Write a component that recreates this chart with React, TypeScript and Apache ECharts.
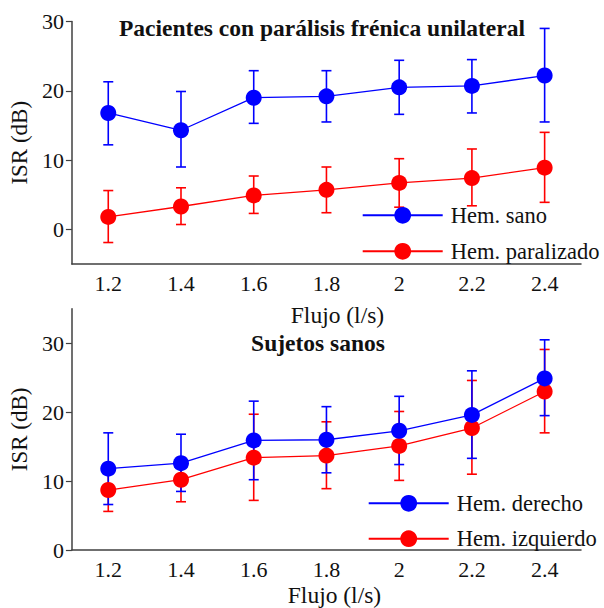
import React, { useEffect, useRef } from "react";
import * as echarts from "echarts";

const flows = ["1.2", "1.4", "1.6", "1.8", "2", "2.2", "2.4"];

// Top panel: Pacientes con parálisis frénica unilateral
const sanoMean = [16.8, 14.3, 19.0, 19.2, 20.5, 20.7, 22.2];
const sanoLow = [12.2, 9.0, 15.3, 15.5, 16.6, 16.8, 15.5];
const sanoHigh = [21.3, 19.9, 22.9, 22.9, 24.4, 24.5, 29.0];
const paralMean = [1.8, 3.3, 4.9, 5.7, 6.7, 7.4, 8.9];
const paralLow = [-1.9, 0.7, 2.3, 2.4, 3.2, 3.4, 3.9];
const paralHigh = [5.6, 6.0, 7.7, 9.0, 10.2, 11.6, 14.0];

// Bottom panel: Sujetos sanos
const derechoMean = [11.8, 12.6, 15.9, 16.0, 17.3, 19.6, 24.9];
const derechoLow = [6.6, 8.5, 10.2, 11.2, 12.4, 13.3, 19.5];
const derechoHigh = [17.0, 16.8, 21.6, 20.8, 22.3, 26.0, 30.5];
const izqMean = [8.7, 10.2, 13.4, 13.7, 15.1, 17.7, 23.0];
const izqLow = [5.6, 7.0, 7.2, 8.9, 10.1, 11.0, 17.0];
const izqHigh = [11.8, 13.4, 19.7, 18.6, 20.1, 24.6, 29.1];

const yTicksTop = [0, 10, 20, 30];
const yTicksBottom = [0, 10, 20, 30];

const BLUE = "#0000ff";
const RED = "#ff0000";
const FONT = "Liberation Serif";
const AXIS_COLOR = "#404040";

function errData(low: number[], high: number[]) {
  return low.map((l, i) => [i, l, high[i]]);
}

function errSeries(name: string, idx: number, low: number[], high: number[], color: string) {
  return {
    type: "custom",
    name,
    xAxisIndex: idx,
    yAxisIndex: idx,
    data: errData(low, high),
    encode: { x: 0, y: [1, 2] },
    silent: true,
    renderItem: (params: any, api: any) => {
      const x = api.value(0);
      const pLo = api.coord([x, api.value(1)]);
      const pHi = api.coord([x, api.value(2)]);
      const w = 5;
      const style = { stroke: color, lineWidth: 1.6 };
      return {
        type: "group",
        children: [
          { type: "line", shape: { x1: pLo[0], y1: pLo[1], x2: pHi[0], y2: pHi[1] }, style },
          { type: "line", shape: { x1: pLo[0] - w, y1: pLo[1], x2: pLo[0] + w, y2: pLo[1] }, style },
          { type: "line", shape: { x1: pHi[0] - w, y1: pHi[1], x2: pHi[0] + w, y2: pHi[1] }, style },
        ],
      };
    },
  };
}

function lineSeries(name: string, idx: number, data: number[], color: string) {
  return {
    type: "line",
    name,
    xAxisIndex: idx,
    yAxisIndex: idx,
    data,
    symbol: "circle",
    symbolSize: 16,
    itemStyle: { color },
    lineStyle: { color, width: 1.3 },
    silent: true,
  };
}

function xAxis(idx: number, nameGap: number, shift: number) {
  return {
    type: "category",
    gridIndex: idx,
    data: flows,
    boundaryGap: true,
    name: "Flujo (l/s)",
    nameLocation: "middle",
    nameGap,
    nameTextStyle: { fontFamily: FONT, fontSize: 23.5, color: "#111", padding: [0, 0, 0, shift] },
    axisLine: { onZero: false, lineStyle: { color: AXIS_COLOR, width: 1.5 } },
    axisTick: { alignWithLabel: true, length: 5, lineStyle: { color: AXIS_COLOR, width: 1.2 } },
    axisLabel: { fontFamily: FONT, fontSize: 22, color: "#111", margin: 8 },
    splitLine: { show: false },
  };
}

function yAxis(idx: number, min: number, max: number, ticks: number[]) {
  return {
    type: "value",
    gridIndex: idx,
    min,
    max,
    name: "ISR (dB)",
    nameLocation: "middle",
    nameRotate: 90,
    nameGap: 31,
    nameTextStyle: { fontFamily: FONT, fontSize: 23, color: "#111" },
    axisLine: { show: true, onZero: false, lineStyle: { color: AXIS_COLOR, width: 1.5 } },
    axisTick: { show: true, length: 6, customValues: ticks, lineStyle: { color: AXIS_COLOR, width: 1.2 } },
    axisLabel: { fontFamily: FONT, fontSize: 22, color: "#111", margin: 8, customValues: ticks },
    splitLine: { show: false },
  };
}

export default function App() {
  const ref = useRef<HTMLDivElement>(null);
  useEffect(() => {
    if (!ref.current) return;
    const chart = echarts.init(ref.current, null, { renderer: "svg" });
    const option: any = {
      animation: false,
      backgroundColor: "#ffffff",
      title: [
        {
          text: "Pacientes con parálisis frénica unilateral",
          left: 322,
          top: 16,
          textAlign: "center",
          padding: 0,
          textStyle: { fontFamily: FONT, fontSize: 23.5, fontWeight: "bold", color: "#111" },
        },
        {
          text: "Sujetos sanos",
          left: 318,
          top: 331,
          textAlign: "center",
          padding: 0,
          textStyle: { fontFamily: FONT, fontSize: 23.5, fontWeight: "bold", color: "#111" },
        },
      ],
      grid: [
        { left: 66.5, right: 23, top: 21.5, height: 242.5 },
        { left: 66.5, right: 23, top: 308.8, height: 241.9 },
      ],
      xAxis: [xAxis(0, 39, 22), xAxis(1, 33, 16)],
      yAxis: [yAxis(0, -5, 30, yTicksTop), yAxis(1, 0, 35, yTicksBottom)],
      legend: [
        {
          data: ["Hem. sano", "Hem. paralizado"],
          orient: "vertical",
          left: 361.7,
          top: 203.8,
          padding: 0,
          itemWidth: 80,
          itemHeight: 21,
          itemGap: 13,
          selectedMode: false,
          textStyle: { fontFamily: FONT, fontSize: 22.5, color: "#111", lineHeight: 21, padding: [0, 0, 0, 3] },
        },
        {
          data: ["Hem. derecho", "Hem. izquierdo"],
          orient: "vertical",
          left: 367.7,
          top: 491.8,
          padding: 0,
          itemWidth: 80,
          itemHeight: 21,
          itemGap: 12.4,
          selectedMode: false,
          textStyle: { fontFamily: FONT, fontSize: 22.5, color: "#111", lineHeight: 21, padding: [0, 0, 0, 3] },
        },
      ],
      series: [
        errSeries("err paralizado", 0, paralLow, paralHigh, RED),
        lineSeries("Hem. paralizado", 0, paralMean, RED),
        errSeries("err sano", 0, sanoLow, sanoHigh, BLUE),
        lineSeries("Hem. sano", 0, sanoMean, BLUE),
        errSeries("err izquierdo", 1, izqLow, izqHigh, RED),
        lineSeries("Hem. izquierdo", 1, izqMean, RED),
        errSeries("err derecho", 1, derechoLow, derechoHigh, BLUE),
        lineSeries("Hem. derecho", 1, derechoMean, BLUE),
      ],
    };
    chart.setOption(option);
    return () => chart.dispose();
  }, []);
  return <div ref={ref} style={{ width: 604, height: 608, position: "absolute", left: 0, top: 0 }} />;
}
